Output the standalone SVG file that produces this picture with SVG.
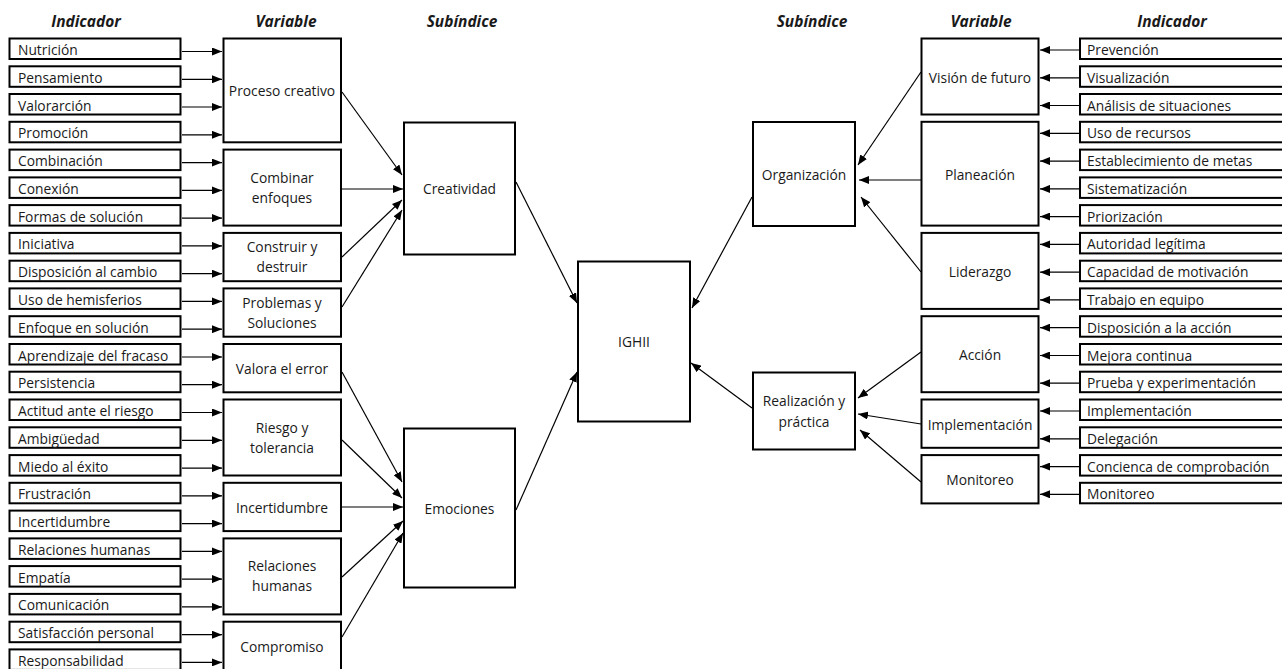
<svg xmlns="http://www.w3.org/2000/svg" width="1282" height="669" viewBox="0 0 1282 669">
<defs>
<marker id="ah" viewBox="0 0 10 8" refX="10" refY="4" markerWidth="10" markerHeight="8" markerUnits="userSpaceOnUse" orient="auto">
<path d="M0,0 L10,4 L0,8 z" fill="#000"/>
</marker>
<style>
.b{fill:#fff;stroke:#000;stroke-width:2}
.t{font-family:"Open Sans","Noto Sans","DejaVu Sans",sans-serif;font-size:13.8px;fill:#1a1a1a}
.c{text-anchor:middle}
.h{font-family:"Open Sans","Noto Sans","DejaVu Sans",sans-serif;font-size:15.5px;font-weight:bold;font-style:italic;fill:#1a1a1a;text-anchor:middle}
.a{stroke:#000;stroke-width:1.2;fill:none;marker-end:url(#ah)}
</style>
</defs>
<rect width="1282" height="669" fill="#fff"/>
<g id="headers">
<text class="h" x="86" y="26.5">Indicador</text>
<text class="h" x="286" y="26.5">Variable</text>
<text class="h" x="462" y="26.5">Subíndice</text>
<text class="h" x="812" y="26.5">Subíndice</text>
<text class="h" x="981" y="26.5">Variable</text>
<text class="h" x="1172" y="26.5">Indicador</text>
</g>
<g id="left-indicators">
<g id="li0"><rect class="b" x="9.5" y="38.5" width="171" height="20.5"/><text class="t" x="18" y="55">Nutrición</text></g>
<g id="li1"><rect class="b" x="9.5" y="66.3" width="171" height="20.5"/><text class="t" x="18" y="82.8">Pensamiento</text></g>
<g id="li2"><rect class="b" x="9.5" y="94" width="171" height="20.5"/><text class="t" x="18" y="110.5">Valorarción</text></g>
<g id="li3"><rect class="b" x="9.5" y="121.8" width="171" height="20.5"/><text class="t" x="18" y="138.3">Promoción</text></g>
<g id="li4"><rect class="b" x="9.5" y="149.6" width="171" height="20.5"/><text class="t" x="18" y="166.1">Combinación</text></g>
<g id="li5"><rect class="b" x="9.5" y="177.4" width="171" height="20.5"/><text class="t" x="18" y="193.9">Conexión</text></g>
<g id="li6"><rect class="b" x="9.5" y="205.1" width="171" height="20.5"/><text class="t" x="18" y="221.6">Formas de solución</text></g>
<g id="li7"><rect class="b" x="9.5" y="232.9" width="171" height="20.5"/><text class="t" x="18" y="249.4">Iniciativa</text></g>
<g id="li8"><rect class="b" x="9.5" y="260.7" width="171" height="20.5"/><text class="t" x="18" y="277.2">Disposición al cambio</text></g>
<g id="li9"><rect class="b" x="9.5" y="288.4" width="171" height="20.5"/><text class="t" x="18" y="304.9">Uso de hemisferios</text></g>
<g id="li10"><rect class="b" x="9.5" y="316.2" width="171" height="20.5"/><text class="t" x="18" y="332.7">Enfoque en solución</text></g>
<g id="li11"><rect class="b" x="9.5" y="344" width="171" height="20.5"/><text class="t" x="18" y="360.5">Aprendizaje del fracaso</text></g>
<g id="li12"><rect class="b" x="9.5" y="371.7" width="171" height="20.5"/><text class="t" x="18" y="388.2">Persistencia</text></g>
<g id="li13"><rect class="b" x="9.5" y="399.5" width="171" height="20.5"/><text class="t" x="18" y="416">Actitud ante el riesgo</text></g>
<g id="li14"><rect class="b" x="9.5" y="427.3" width="171" height="20.5"/><text class="t" x="18" y="443.8">Ambigüedad</text></g>
<g id="li15"><rect class="b" x="9.5" y="455.1" width="171" height="20.5"/><text class="t" x="18" y="471.6">Miedo al éxito</text></g>
<g id="li16"><rect class="b" x="9.5" y="482.8" width="171" height="20.5"/><text class="t" x="18" y="499.3">Frustración</text></g>
<g id="li17"><rect class="b" x="9.5" y="510.6" width="171" height="20.5"/><text class="t" x="18" y="527.1">Incertidumbre</text></g>
<g id="li18"><rect class="b" x="9.5" y="538.4" width="171" height="20.5"/><text class="t" x="18" y="554.9">Relaciones humanas</text></g>
<g id="li19"><rect class="b" x="9.5" y="566.1" width="171" height="20.5"/><text class="t" x="18" y="582.6">Empatía</text></g>
<g id="li20"><rect class="b" x="9.5" y="593.9" width="171" height="20.5"/><text class="t" x="18" y="610.4">Comunicación</text></g>
<g id="li21"><rect class="b" x="9.5" y="621.7" width="171" height="20.5"/><text class="t" x="18" y="638.2">Satisfacción personal</text></g>
<g id="li22"><rect class="b" x="9.5" y="649.4" width="171" height="20.5"/><text class="t" x="18" y="665.9">Responsabilidad</text></g>
</g>
<g id="left-variables">
<g id="lv-proceso"><rect class="b" x="223.5" y="38.5" width="117.5" height="103.8"/><text class="t c" x="282" y="95.9">Proceso creativo</text></g>
<g id="lv-combinar"><rect class="b" x="223.5" y="149.6" width="117.5" height="76"/><text class="t c" x="282" y="182.6">Combinar</text><text class="t c" x="282" y="202.6">enfoques</text></g>
<g id="lv-construir"><rect class="b" x="223.5" y="232.9" width="117.5" height="48.3"/><text class="t c" x="282" y="252">Construir y</text><text class="t c" x="282" y="272">destruir</text></g>
<g id="lv-problemas"><rect class="b" x="223.5" y="288.4" width="117.5" height="48.3"/><text class="t c" x="282" y="307.6">Problemas y</text><text class="t c" x="282" y="327.6">Soluciones</text></g>
<g id="lv-valora"><rect class="b" x="223.5" y="344" width="117.5" height="48.3"/><text class="t c" x="282" y="373.6">Valora el error</text></g>
<g id="lv-riesgo"><rect class="b" x="223.5" y="399.5" width="117.5" height="76"/><text class="t c" x="282" y="432.5">Riesgo y</text><text class="t c" x="282" y="452.5">tolerancia</text></g>
<g id="lv-incert"><rect class="b" x="223.5" y="482.8" width="117.5" height="48.3"/><text class="t c" x="282" y="512.5">Incertidumbre</text></g>
<g id="lv-relaciones"><rect class="b" x="223.5" y="538.4" width="117.5" height="76"/><text class="t c" x="282" y="571.4">Relaciones</text><text class="t c" x="282" y="591.4">humanas</text></g>
<g id="lv-compromiso"><rect class="b" x="223.5" y="621.7" width="117.5" height="48.3"/><text class="t c" x="282" y="651.5">Compromiso</text></g>
</g>
<g id="subindices">
<g id="creatividad"><rect class="b" x="404" y="122.5" width="111" height="132"/><text class="t c" x="459.5" y="193.5">Creatividad</text></g>
<g id="emociones"><rect class="b" x="404" y="428.5" width="111" height="159"/><text class="t c" x="459.5" y="513.5">Emociones</text></g>
<g id="ighii"><rect class="b" x="578" y="261.5" width="112" height="160"/><text class="t c" x="634" y="346.5">IGHII</text></g>
<g id="organizacion"><rect class="b" x="753" y="122" width="102" height="104"/><text class="t c" x="804" y="179.5">Organización</text></g>
<g id="realizacion"><rect class="b" x="753" y="372.5" width="102" height="77"/><text class="t c" x="804" y="405.5">Realización y</text><text class="t c" x="804" y="426.5">práctica</text></g>
</g>
<g id="right-variables">
<g id="rv-vision"><rect class="b" x="921.5" y="38.5" width="117" height="76"/><text class="t c" x="980" y="82.5">Visión de futuro</text></g>
<g id="rv-planeacion"><rect class="b" x="921.5" y="121.8" width="117" height="103.8"/><text class="t c" x="980" y="179.7">Planeación</text></g>
<g id="rv-liderazgo"><rect class="b" x="921.5" y="232.9" width="117" height="76"/><text class="t c" x="980" y="276.9">Liderazgo</text></g>
<g id="rv-accion"><rect class="b" x="921.5" y="316.2" width="117" height="76"/><text class="t c" x="980" y="360.2">Acción</text></g>
<g id="rv-implementacion"><rect class="b" x="921.5" y="399.5" width="117" height="48.3"/><text class="t c" x="980" y="429.7">Implementación</text></g>
<g id="rv-monitoreo"><rect class="b" x="921.5" y="455.1" width="117" height="48.3"/><text class="t c" x="980" y="485.2">Monitoreo</text></g>
</g>
<g id="right-indicators">
<g id="ri0"><rect class="b" x="1080" y="38.5" width="215" height="20.5"/><text class="t" x="1087" y="55">Prevención</text></g>
<g id="ri1"><rect class="b" x="1080" y="66.3" width="215" height="20.5"/><text class="t" x="1087" y="82.8">Visualización</text></g>
<g id="ri2"><rect class="b" x="1080" y="94" width="215" height="20.5"/><text class="t" x="1087" y="110.5">Análisis de situaciones</text></g>
<g id="ri3"><rect class="b" x="1080" y="121.8" width="215" height="20.5"/><text class="t" x="1087" y="138.3">Uso de recursos</text></g>
<g id="ri4"><rect class="b" x="1080" y="149.6" width="215" height="20.5"/><text class="t" x="1087" y="166.1">Establecimiento de metas</text></g>
<g id="ri5"><rect class="b" x="1080" y="177.4" width="215" height="20.5"/><text class="t" x="1087" y="193.9">Sistematización</text></g>
<g id="ri6"><rect class="b" x="1080" y="205.1" width="215" height="20.5"/><text class="t" x="1087" y="221.6">Priorización</text></g>
<g id="ri7"><rect class="b" x="1080" y="232.9" width="215" height="20.5"/><text class="t" x="1087" y="249.4">Autoridad legítima</text></g>
<g id="ri8"><rect class="b" x="1080" y="260.7" width="215" height="20.5"/><text class="t" x="1087" y="277.2">Capacidad de motivación</text></g>
<g id="ri9"><rect class="b" x="1080" y="288.4" width="215" height="20.5"/><text class="t" x="1087" y="304.9">Trabajo en equipo</text></g>
<g id="ri10"><rect class="b" x="1080" y="316.2" width="215" height="20.5"/><text class="t" x="1087" y="332.7">Disposición a la acción</text></g>
<g id="ri11"><rect class="b" x="1080" y="344" width="215" height="20.5"/><text class="t" x="1087" y="360.5">Mejora continua</text></g>
<g id="ri12"><rect class="b" x="1080" y="371.7" width="215" height="20.5"/><text class="t" x="1087" y="388.2">Prueba y experimentación</text></g>
<g id="ri13"><rect class="b" x="1080" y="399.5" width="215" height="20.5"/><text class="t" x="1087" y="416">Implementación</text></g>
<g id="ri14"><rect class="b" x="1080" y="427.3" width="215" height="20.5"/><text class="t" x="1087" y="443.8">Delegación</text></g>
<g id="ri15"><rect class="b" x="1080" y="455.1" width="215" height="20.5"/><text class="t" x="1087" y="471.6">Concienca de comprobación</text></g>
<g id="ri16"><rect class="b" x="1080" y="482.8" width="215" height="20.5"/><text class="t" x="1087" y="499.3">Monitoreo</text></g>
</g>
<g id="connectors">
<line class="a" x1="182" y1="51.5" x2="222" y2="51.5"/>
<line class="a" x1="182" y1="79.3" x2="222" y2="79.3"/>
<line class="a" x1="182" y1="107" x2="222" y2="107"/>
<line class="a" x1="182" y1="134.8" x2="222" y2="134.8"/>
<line class="a" x1="182" y1="162.6" x2="222" y2="162.6"/>
<line class="a" x1="182" y1="190.4" x2="222" y2="190.4"/>
<line class="a" x1="182" y1="218.1" x2="222" y2="218.1"/>
<line class="a" x1="182" y1="245.9" x2="222" y2="245.9"/>
<line class="a" x1="182" y1="273.7" x2="222" y2="273.7"/>
<line class="a" x1="182" y1="301.4" x2="222" y2="301.4"/>
<line class="a" x1="182" y1="329.2" x2="222" y2="329.2"/>
<line class="a" x1="182" y1="357" x2="222" y2="357"/>
<line class="a" x1="182" y1="384.7" x2="222" y2="384.7"/>
<line class="a" x1="182" y1="412.5" x2="222" y2="412.5"/>
<line class="a" x1="182" y1="440.3" x2="222" y2="440.3"/>
<line class="a" x1="182" y1="468.1" x2="222" y2="468.1"/>
<line class="a" x1="182" y1="495.8" x2="222" y2="495.8"/>
<line class="a" x1="182" y1="523.6" x2="222" y2="523.6"/>
<line class="a" x1="182" y1="551.4" x2="222" y2="551.4"/>
<line class="a" x1="182" y1="579.1" x2="222" y2="579.1"/>
<line class="a" x1="182" y1="606.9" x2="222" y2="606.9"/>
<line class="a" x1="182" y1="634.7" x2="222" y2="634.7"/>
<line class="a" x1="182" y1="662.4" x2="222" y2="662.4"/>
<line class="a" x1="342" y1="92" x2="402" y2="175"/>
<line class="a" x1="342" y1="189" x2="403" y2="189"/>
<line class="a" x1="342" y1="257" x2="402" y2="200"/>
<line class="a" x1="342" y1="307" x2="402" y2="210"/>
<line class="a" x1="342" y1="372" x2="402" y2="482"/>
<line class="a" x1="342" y1="440" x2="402" y2="498"/>
<line class="a" x1="342" y1="507" x2="403" y2="507"/>
<line class="a" x1="342" y1="577" x2="403" y2="521"/>
<line class="a" x1="342" y1="637" x2="403" y2="533"/>
<line class="a" x1="516" y1="182" x2="577" y2="303"/>
<line class="a" x1="516" y1="510" x2="577" y2="372"/>
<line class="a" x1="752" y1="197" x2="692" y2="308"/>
<line class="a" x1="752" y1="408" x2="691" y2="363"/>
<line class="a" x1="921" y1="72" x2="858" y2="165"/>
<line class="a" x1="921" y1="180" x2="859" y2="180"/>
<line class="a" x1="921" y1="272" x2="861" y2="197"/>
<line class="a" x1="921" y1="352" x2="858" y2="398"/>
<line class="a" x1="921" y1="424" x2="858" y2="414"/>
<line class="a" x1="921" y1="482" x2="860" y2="430"/>
<line class="a" x1="1079" y1="50" x2="1040" y2="50"/>
<line class="a" x1="1079" y1="77.8" x2="1040" y2="77.8"/>
<line class="a" x1="1079" y1="105.5" x2="1040" y2="105.5"/>
<line class="a" x1="1079" y1="133.3" x2="1040" y2="133.3"/>
<line class="a" x1="1079" y1="161.1" x2="1040" y2="161.1"/>
<line class="a" x1="1079" y1="188.9" x2="1040" y2="188.9"/>
<line class="a" x1="1079" y1="216.6" x2="1040" y2="216.6"/>
<line class="a" x1="1079" y1="244.4" x2="1040" y2="244.4"/>
<line class="a" x1="1079" y1="272.2" x2="1040" y2="272.2"/>
<line class="a" x1="1079" y1="299.9" x2="1040" y2="299.9"/>
<line class="a" x1="1079" y1="327.7" x2="1040" y2="327.7"/>
<line class="a" x1="1079" y1="355.5" x2="1040" y2="355.5"/>
<line class="a" x1="1079" y1="383.2" x2="1040" y2="383.2"/>
<line class="a" x1="1079" y1="411" x2="1040" y2="411"/>
<line class="a" x1="1079" y1="438.8" x2="1040" y2="438.8"/>
<line class="a" x1="1079" y1="466.6" x2="1040" y2="466.6"/>
<line class="a" x1="1079" y1="494.3" x2="1040" y2="494.3"/>
</g>
</svg>
